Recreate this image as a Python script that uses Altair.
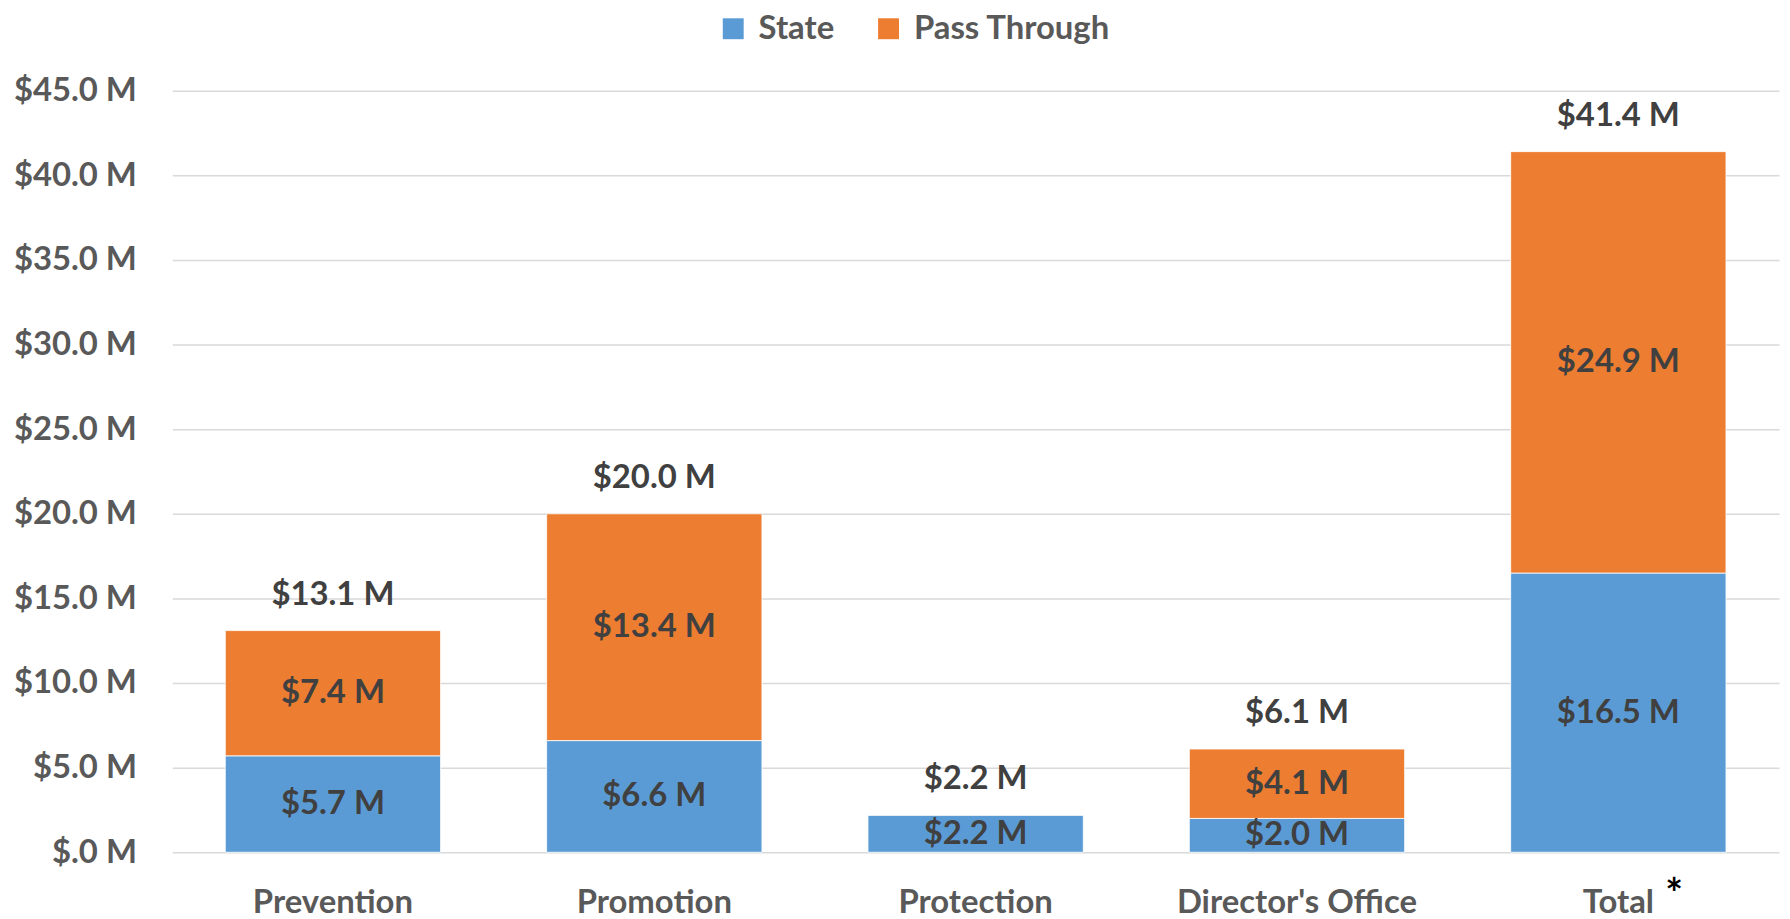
import altair as alt
import pandas as pd

categories = ["Prevention", "Promotion", "Protection", "Director's Office", "Total"]
state_values = [5.7, 6.6, 2.2, 2.0, 16.5]
pass_values = [7.4, 13.4, 0.0, 4.1, 24.9]
total_values = [13.1, 20.0, 2.2, 6.1, 41.4]
series_names = ["State", "Pass Through"]
series_colors = ["#5B9BD5", "#ED7D31"]
y_ticks = [0, 5, 10, 15, 20, 25, 30, 35, 40, 45]
footnote_category = ["Total"]
footnote_mark = ["*"]

rows = []
for i, c in enumerate(categories):
    rows.append(dict(category=c, series="State", idx=0, value=state_values[i]))
    rows.append(dict(category=c, series="Pass Through", idx=1, value=pass_values[i]))
df = pd.DataFrame(rows)
tot = pd.DataFrame(dict(category=categories, total=total_values))
foot = pd.DataFrame(dict(category=footnote_category, mark=footnote_mark))

FONT = "Lato"
FS = 33

x_enc = alt.X(
    "category:N", sort=categories, title=None,
    scale=alt.Scale(paddingInner=0.33, paddingOuter=0.165),
    axis=alt.Axis(labelFont=FONT, labelFontSize=FS, labelFontWeight="bold",
                  labelColor="#595959", labelPadding=34, domain=False,
                  ticks=False, labelAngle=0, grid=False, labelLimit=0),
)

bars = alt.Chart(df).mark_bar(stroke="white", strokeWidth=0.8).encode(
    x=x_enc,
    y=alt.Y(
        "value:Q", stack="zero", title=None,
        scale=alt.Scale(domain=[0, 45], nice=False),
        axis=alt.Axis(values=y_ticks, grid=True, gridColor="#D9D9D9", gridWidth=1.5,
                      domain=False, ticks=False, labelFont=FONT, labelFontSize=FS,
                      labelFontWeight="bold", labelColor="#595959", labelPadding=36,
                      labelLimit=0,
                      labelExpr="datum.value == 0 ? '$.0 M' : '$' + format(datum.value, '.1f') + ' M'"),
    ),
    color=alt.Color(
        "series:N",
        scale=alt.Scale(domain=series_names, range=series_colors),
        legend=alt.Legend(orient="none", legendX=547, legendY=-79, direction="horizontal",
                          title=None, symbolType="square", symbolSize=441,
                          symbolStrokeWidth=0, labelFont=FONT, labelFontSize=FS,
                          labelFontWeight="bold", labelColor="#595959",
                          labelOffset=9, columnPadding=38, symbolOpacity=1,
                          labelLimit=0),
    ),
    order=alt.Order("idx:Q", sort="ascending"),
)

seg = alt.Chart(df).transform_stack(
    stack="value", groupby=["category"],
    sort=[alt.SortField("idx", order="ascending")], as_=["y0", "y1"]
).transform_filter("datum.value > 0").transform_calculate(
    mid="(datum.y0 + datum.y1) / 2",
    label="'$' + format(datum.value, '.1f') + ' M'",
).mark_text(font=FONT, fontSize=FS, fontWeight="bold", color="#404040", baseline="middle").encode(
    x=alt.X("category:N", sort=categories),
    y=alt.Y("mid:Q"),
    text="label:N",
)

tl = alt.Chart(tot).transform_calculate(
    label="'$' + format(datum.total, '.1f') + ' M'"
).mark_text(font=FONT, fontSize=FS, fontWeight="bold", color="#404040",
            baseline="middle", dy=-36).encode(
    x=alt.X("category:N", sort=categories),
    y=alt.Y("total:Q"),
    text="label:N",
)

ast = alt.Chart(foot).mark_text(font=FONT, fontSize=42, fontWeight="bold", color="black",
                                baseline="alphabetic", dx=56).encode(
    x=alt.X("category:N", sort=categories),
    y=alt.value(822),
    text="mark:N",
)

chart = alt.layer(bars, seg, tl, ast).properties(
    width=1614, height=765,
    background="white",
    autosize=alt.AutoSizeParams(type="none"),
    padding={"left": 165, "top": 81, "right": 3, "bottom": 80},
).configure_view(strokeWidth=0, stroke="transparent")

chart.save("out.html", embed_options={"renderer": "svg", "actions": False})
